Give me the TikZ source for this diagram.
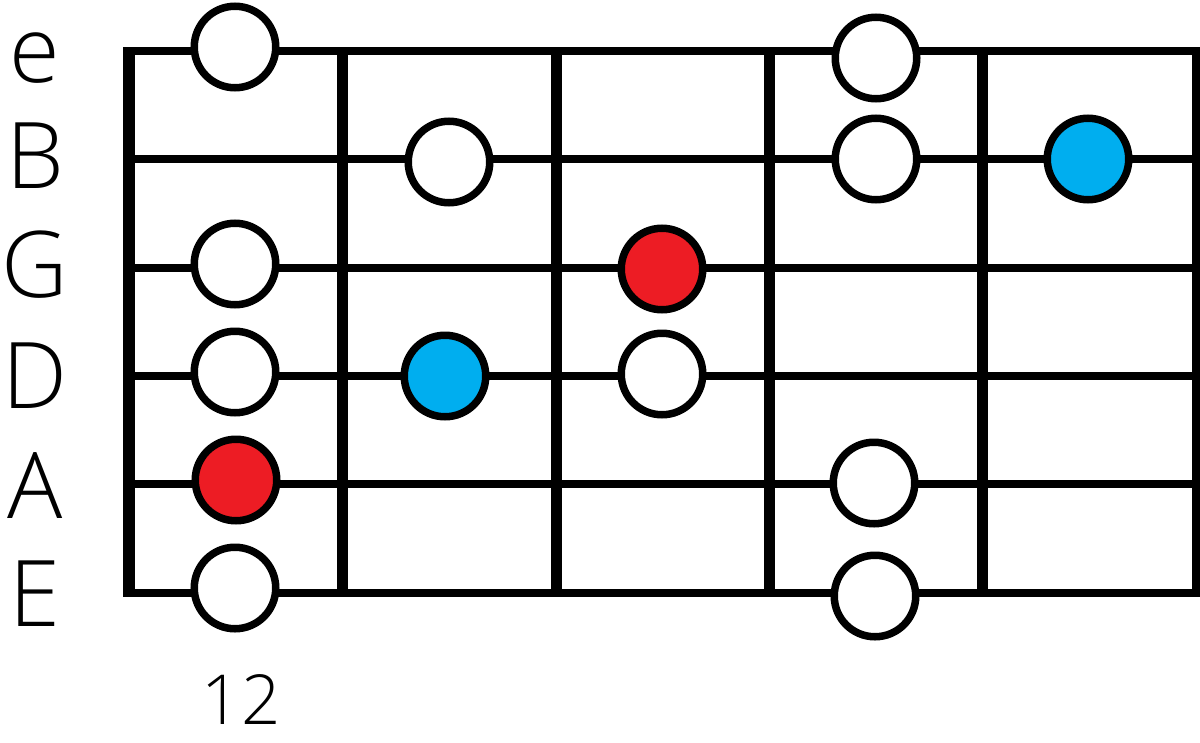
\documentclass[tikz,border=0pt]{standalone}
\usepackage{fontspec}
\setmainfont{Open Sans Light}
\definecolor{notered}{HTML}{ED1C24}
\definecolor{noteblue}{HTML}{00AEEF}
\begin{document}
\begin{tikzpicture}[x=1pt,y=-1pt,
  strline/.style={line width=8pt},
  fretline/.style={line width=11pt},
  nutline/.style={line width=12pt},
  endline/.style={line width=8pt},
  note/.style={circle,draw=black,line width=7.5pt,minimum size=81.5pt,inner sep=0pt,fill=white},
  rootnote/.style={note,fill=notered},
  bluenote/.style={note,fill=noteblue},
  lbl/.style={anchor=base,inner sep=0pt,font=\fontsize{92}{92}\selectfont},
  fretnum/.style={anchor=base,inner sep=0pt,font=\fontsize{69}{69}\selectfont},
]
\useasboundingbox (0,0) rectangle (1200,742);
% strings
\foreach \s/\y in {e/51,B/159,G/268,D/376,A/484,E/593} {
  \coordinate (s\s L) at (123,\y);
  \coordinate (s\s R) at (1200,\y);
  \draw[strline] (s\s L) -- (s\s R);
}
% nut, frets and right edge
\coordinate (nutT) at (129,47); \coordinate (nutB) at (129,597);
\draw[nutline] (nutT) -- (nutB);
\foreach \i/\x in {1/342,2/556,3/769,4/982} {
  \coordinate (f\i T) at (\x,47);
  \coordinate (f\i B) at (\x,597);
  \draw[fretline] (f\i T) -- (f\i B);
}
\coordinate (endT) at (1196,47); \coordinate (endB) at (1196,597);
\draw[endline] (endT) -- (endB);
% string labels
\node[lbl] (le) at (35,82) {e};
\node[lbl] (lB) at (35,188) {B};
\node[lbl] (lG) at (35,297) {G};
\node[lbl] (lD) at (35,408) {D};
\node[lbl] (lA) at (35,518) {A};
\node[lbl] (lE) at (35,626) {E};
\node[fretnum] (n12) at (241,724) {12};
% notes
\node[note] (e1) at (235,47) {};
\node[note] (e4) at (876,58) {};
\node[note] (B2) at (449,162) {};
\node[note] (B4) at (876,159) {};
\node[bluenote] (B5) at (1088,159) {};
\node[note] (G1) at (235,264) {};
\node[rootnote] (G3) at (662,269) {};
\node[note] (D1) at (235,372) {};
\node[bluenote] (D2) at (445,376) {};
\node[note] (D3) at (662,374) {};
\node[rootnote] (A1) at (236,480) {};
\node[note] (A4) at (874,483) {};
\node[note] (E1) at (235,588) {};
\node[note] (E4) at (875,596) {};
\end{tikzpicture}
\end{document}
